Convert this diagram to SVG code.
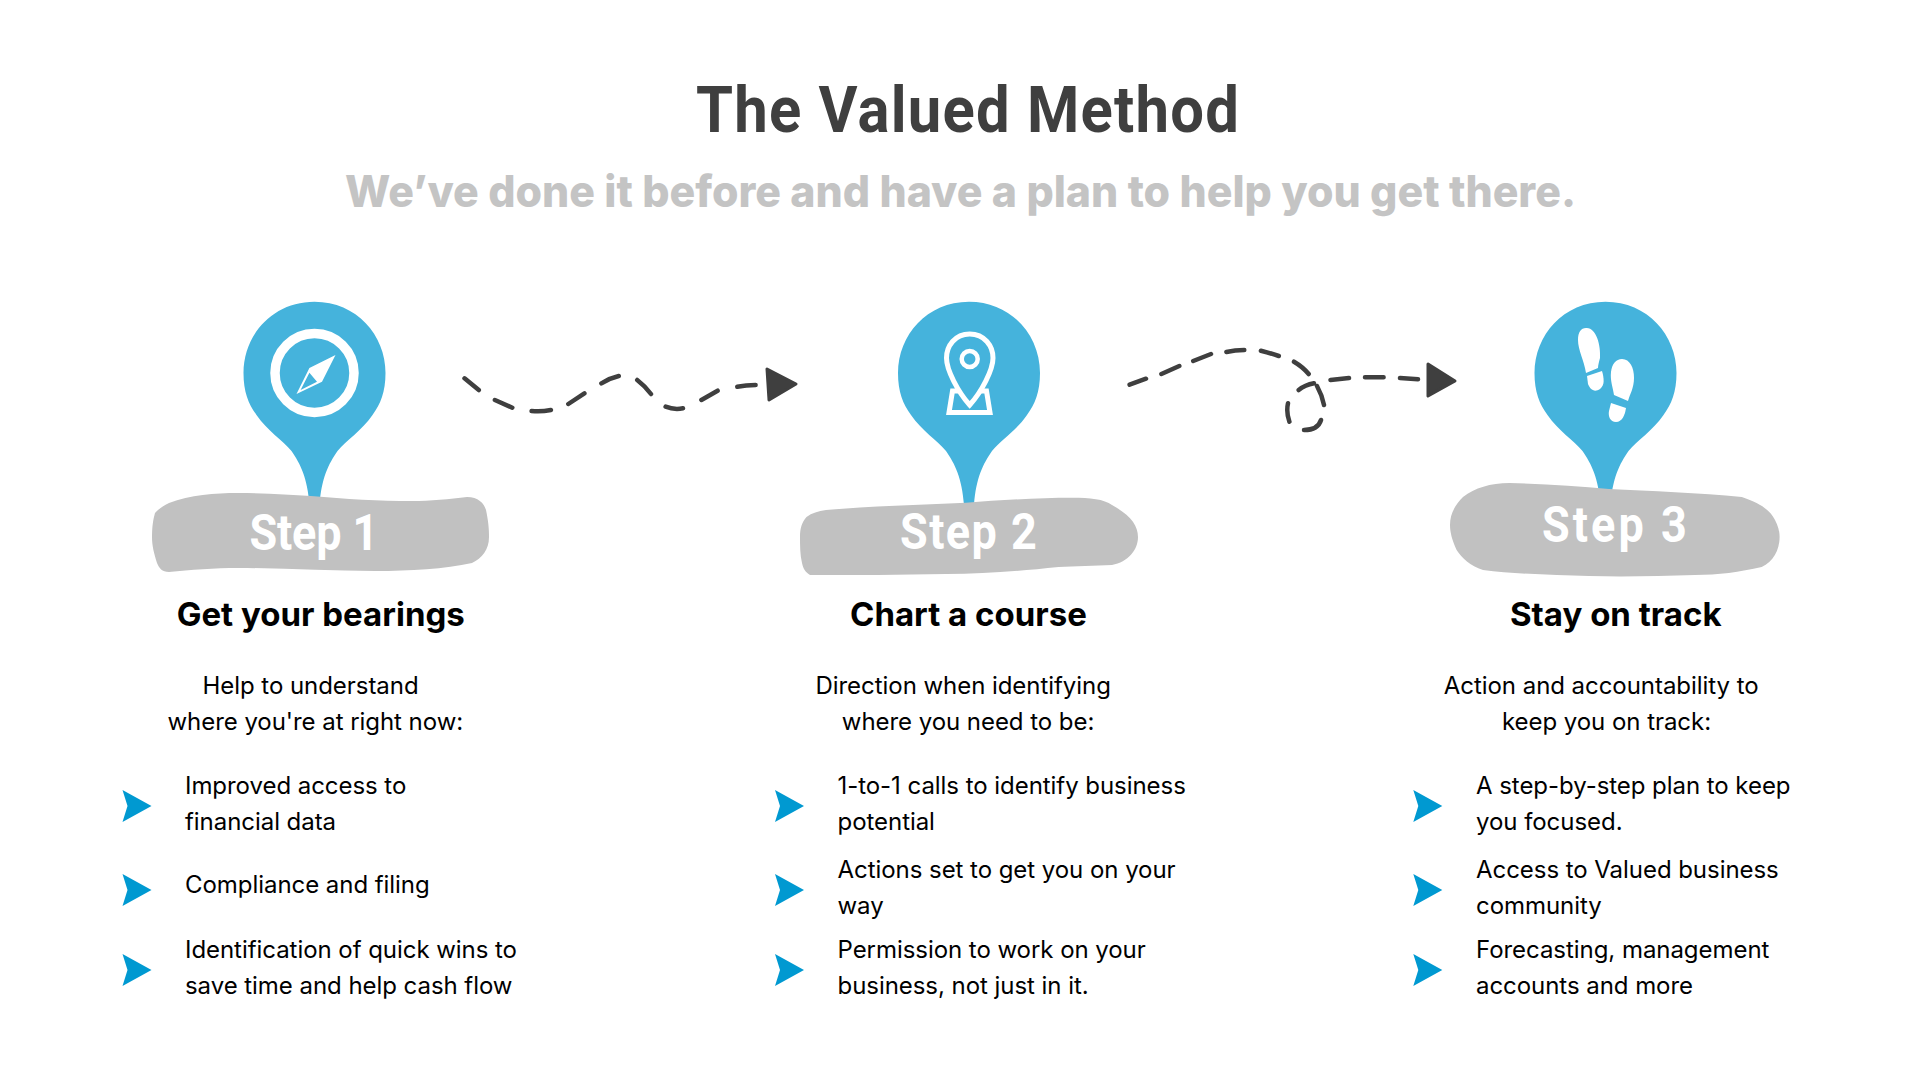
<svg xmlns="http://www.w3.org/2000/svg" width="1920" height="1080" viewBox="0 0 1920 1080">
<style>
text{font-family:"Inter","Liberation Sans",sans-serif}
.title{font-family:"Roboto","Liberation Sans",sans-serif;font-size:65px;font-weight:700;fill:#3f3f3f}
.sub{font-size:44px;font-weight:800;fill:#c4c4c4}
.step{font-family:"Roboto","Liberation Sans",sans-serif;font-size:50px;font-weight:700;fill:#fff}
.head{font-size:33px;font-weight:700;fill:#000}
.body{font-size:24px;letter-spacing:-.05px;fill:#000}
.pin{fill:#45b3dc}
.blob{fill:#c1c1c1}
.bullet{fill:#0099d1}
.ico{fill:none;stroke:#fff;stroke-width:5}
.wh{fill:#fff}
.dash{fill:none;stroke:#3f3f3f;stroke-width:4.5;stroke-linecap:round}
.head-arrow{fill:#3f3f3f;stroke:#3f3f3f;stroke-width:3;stroke-linejoin:round}
</style>
<defs>
<path id="pinShape" d="M0,301.7C42,301.7 71,335 71,373C71,392 66,404 58,415C47,431 32,440 23,451C14,464 7,478 5,505L-5,505C-7,478 -14,464 -23,451C-32,440 -47,431 -58,415C-66,404 -71,392 -71,373C-71,335 -42,301.7 0,301.7Z"/>
<path id="bulletShape" d="M0,-16L29,0L0,16L5,0Z"/>
</defs>
<rect width="1920" height="1080" fill="#fff"/>
<g id="heading">
<text class="title" transform="translate(696,131.7) scale(.92,1)" textLength="590" lengthAdjust="spacing">The Valued Method</text>
<text class="sub" x="345" y="206.7" textLength="1231" lengthAdjust="spacingAndGlyphs">We’ve done it before and have a plan to help you get there.</text>
</g>
<g id="connectors">
<path class="dash" d="M464.5,378.3L478.8,390M494.9,400L512.3,407.7M531.6,411Q541,412 550.9,410M568.3,404L584.4,393.3M601.4,383.3Q610,378 618.8,376M637.2,380Q645,386 651,394M665.6,406.7Q674,410 683,408.3M701.4,400L717.6,390.7M737.3,386.7Q746,385 755.6,385"/>
<path class="head-arrow" d="M767,369L796,384L769,400Z"/>
<path class="dash" d="M1129.6,384.7L1146,378.7M1161.4,374L1179.3,366M1193.2,361L1211,354M1226.4,352Q1235,350 1244.3,350M1260.9,350.7Q1270,353 1278.8,356M1294,361.7Q1303,367 1308.7,374M1298.7,390Q1305,385 1314,383.3M1317,386Q1322,395 1324,405M1321,420Q1318,430 1304,430M1289.4,421.7Q1286,412 1288,403.3M1330.5,380L1349,378M1365,377.3L1383.6,377.3M1400,378L1418,379.3"/>
<path class="head-arrow" d="M1428,364L1455,381L1428,396Z"/>
</g>
<g id="step1">
<use href="#pinShape" class="pin" x="314.5"/>
<circle cx="314.5" cy="373" r="39.5" class="ico" style="stroke-width:9.5"/>
<path class="wh" fill-rule="evenodd" d="M335.5,355L309.4,368L296.5,394L322,381.7ZM309.4,372.7L317,381.7L300.6,390Z"/>
<path class="blob" d="M169,503C190,495 215,493 238,493C265,493 290,495 311,496C345,499 380,501 412,501C430,501 450,499 467,497C478,497 484,503 486,510C488,520 489,527 489,537C489,550 482,558 472,563C445,569 410,571 375,571C330,571 285,568 238,568C215,568 190,570 169,572C162,572 159,568 157,563C154,553 152,546 152,537C152,527 153,520 155,513C158,510 162,506 169,503Z"/>
<text class="step" transform="translate(249.5,550) scale(.9,1)" textLength="143" lengthAdjust="spacing">Step 1</text>
<text class="head" x="176.7" y="625.5">Get your bearings</text>
<text class="body" x="202.5" y="694">Help to understand</text>
<text class="body" x="167.5" y="730">where you're at right now:</text>
<use href="#bulletShape" class="bullet" x="122.5" y="806"/>
<text class="body" x="185" y="794">Improved access to</text>
<text class="body" x="185" y="830">financial data</text>
<use href="#bulletShape" class="bullet" x="122.5" y="890"/>
<text class="body" x="185" y="892.7">Compliance and filing</text>
<use href="#bulletShape" class="bullet" x="122.5" y="970"/>
<text class="body" x="185" y="958">Identification of quick wins to</text>
<text class="body" x="185" y="994">save time and help cash flow</text>
</g>
<g id="step2">
<use href="#pinShape" class="pin" x="969"/>
<path class="ico" d="M969.7,334C955,334 946.5,346 946.5,358C946.5,370 958,392 969.7,405C981.5,392 993,370 993,358C993,346 984.5,334 969.7,334Z"/>
<circle cx="969.7" cy="359" r="8" class="ico" style="stroke-width:4.5"/>
<path class="ico" d="M958,391L952.5,391L949,412.5L990,412.5L986.5,391L981,391"/>
<path class="blob" d="M826,510C870,506 920,505 966,502.7C1000,500 1040,497.7 1072,497.7C1090,497.7 1104,499 1112,505C1130,515 1138,525 1138,537C1138,550 1128,562 1112,565C1095,566 1075,566 1058.6,567C1020,571 985,574 946,574C900,575 855,575 810,575C805,572 803,568 802,563C800,555 800,545 800,537C800,528 802,522 806.5,517C812,513 818,511 826,510Z"/>
<text class="step" transform="translate(900,548.7) scale(.9,1)" textLength="152" lengthAdjust="spacing">Step 2</text>
<text class="head" x="850" y="625.5">Chart a course</text>
<text class="body" x="815.5" y="694">Direction when identifying</text>
<text class="body" x="841.8" y="730">where you need to be:</text>
<use href="#bulletShape" class="bullet" x="775" y="806"/>
<text class="body" x="837.5" y="794">1-to-1 calls to identify business</text>
<text class="body" x="837.5" y="830">potential</text>
<use href="#bulletShape" class="bullet" x="775" y="890"/>
<text class="body" x="837.5" y="878">Actions set to get you on your</text>
<text class="body" x="837.5" y="914">way</text>
<use href="#bulletShape" class="bullet" x="775" y="970"/>
<text class="body" x="837.5" y="958">Permission to work on your</text>
<text class="body" x="837.5" y="994">business, not just in it.</text>
</g>
<g id="step3">
<use href="#pinShape" class="pin" x="1605.5"/>
<path class="wh" d="M1586,328C1596,327 1601,345 1600,358C1599,362 1598,365 1598,368L1586,373C1584,360 1578,350 1578,340C1578,332 1581,328 1586,328Z"/>
<path class="wh" d="M1587,376L1602,371C1604,378 1605,385 1600,389C1594,393 1590,389 1588,384Z"/>
<path class="wh" d="M1622,359C1630,359 1634,368 1634,378C1634,388 1630,394 1628,401L1614,395C1613,388 1610,380 1611,372C1612,364 1616,359 1622,359Z"/>
<path class="wh" d="M1611,403L1626,408C1625,415 1622,422 1616,422C1610,422 1608,416 1609,411Z"/>
<path class="blob" d="M1509.6,483C1545,484 1578,486 1609,489C1650,491 1700,493 1741.8,497C1760,503 1770,510 1775,520C1778,526 1779.6,531 1779.6,537C1779.6,550 1773,562 1761.7,567C1740,572 1718,575 1695,575C1660,576 1625,577 1589,576C1555,575 1515,574 1483,570C1470,566 1462,558 1456.6,550C1452,540 1450,532 1450,525C1450,514 1455,505 1463,497C1475,488 1490,483 1509.6,483Z"/>
<text class="step" transform="translate(1542,541.7) scale(.9,1)" textLength="161" lengthAdjust="spacing">Step 3</text>
<text class="head" x="1510" y="625.5">Stay on track</text>
<text class="body" x="1443.8" y="694">Action and accountability to</text>
<text class="body" x="1502" y="730">keep you on track:</text>
<use href="#bulletShape" class="bullet" x="1413.3" y="806"/>
<text class="body" x="1476" y="794">A step-by-step plan to keep</text>
<text class="body" x="1476" y="830">you focused.</text>
<use href="#bulletShape" class="bullet" x="1413.3" y="890"/>
<text class="body" x="1476" y="878">Access to Valued business</text>
<text class="body" x="1476" y="914">community</text>
<use href="#bulletShape" class="bullet" x="1413.3" y="970"/>
<text class="body" x="1476" y="958">Forecasting, management</text>
<text class="body" x="1476" y="994">accounts and more</text>
</g>
</svg>
